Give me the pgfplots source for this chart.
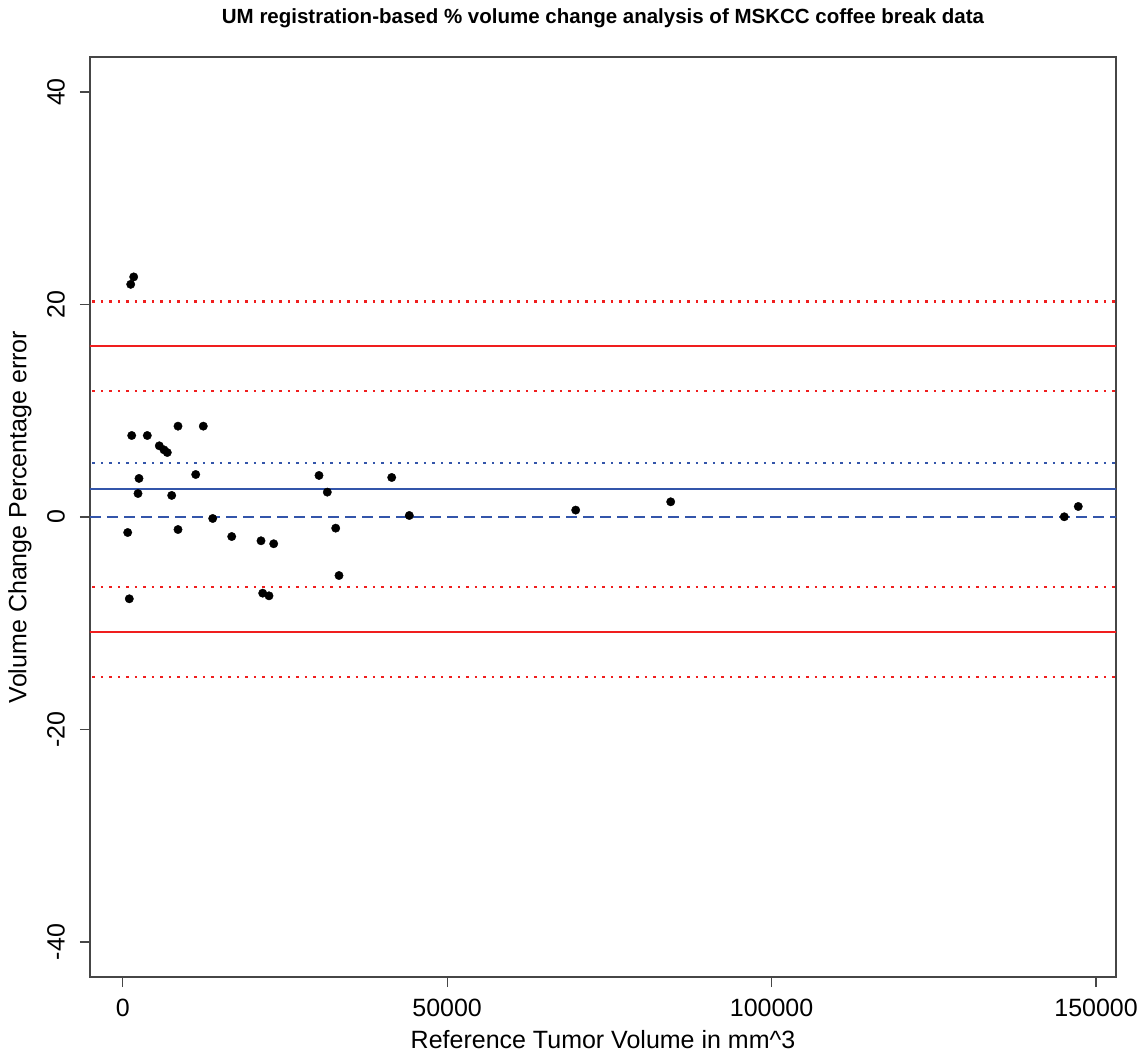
\documentclass[border=0pt]{standalone}
\usepackage{fontspec}
\setmainfont{Liberation Sans}
\usepackage{pgfplots}
\pgfplotsset{compat=1.18}
\definecolor{myblue}{RGB}{51,85,170}
\definecolor{myred}{RGB}{240,30,30}
\definecolor{framecol}{RGB}{70,70,70}

\begin{document}
\begin{tikzpicture}[x=1pt,y=1pt]
\useasboundingbox (0,0) rectangle (1145,1059);
\begin{axis}[
  at={(90pt,82pt)}, anchor=south west,
  scale only axis, width=1026pt, height=920pt,
  xmin=-5040, xmax=153075, ymin=-43.3, ymax=43.3,
  axis line style={framecol, line width=1.2pt},
  every tick/.style={framecol, line width=1.2pt},
  tick align=outside, major tick length=10pt,
  xtick pos=left, ytick pos=left,
  xtick={0,50000,100000,150000}, ytick={-40,-20,0,20,40},
  xticklabels={0,50000,100000,150000},
  yticklabels={-40,-20,0,20,40},
  scaled x ticks=false,
  xticklabel style={font=\fontsize{25}{28}\selectfont, anchor=center, yshift=-21pt},
  yticklabel style={font=\fontsize{25}{28}\selectfont, xshift=-24pt, rotate=90, anchor=center},
  xlabel={Reference Tumor Volume in mm\textasciicircum 3},
  ylabel={Volume Change Percentage error},
  label style={font=\fontsize{25}{28}\selectfont},
  xlabel style={at={(axis description cs:0.5,0)}, anchor=center, yshift=-63pt},
  ylabel style={at={(axis description cs:-0.0682,0.5)}, anchor=center},
  clip=true,
]
\addplot[only marks, mark=*, mark size=4.2pt, black] table {
x y
1233 21.9
1695 22.6
1387 7.67
3791 7.67
5640 6.70
6365 6.32
6873 6.07
8522 8.55
12420 8.55
2512 3.63
2358 2.21
11250 4.00
7551 2.03
770 -1.46
8522 -1.18
13870 -0.14
16800 -1.84
21313 -2.24
23270 -2.52
1017 -7.70
21575 -7.17
22546 -7.42
30252 3.91
41455 3.72
31530 2.34
44168 0.14
32825 -1.05
33334 -5.51
69810 0.65
84450 1.43
145100 0.02
147260 0.99
};
% limits of agreement
\addplot[myred, line width=2pt] coordinates {(-6000,16.05) (160000,16.05)};
\addplot[myred, line width=2pt] coordinates {(-6000,-10.87) (160000,-10.87)};
\addplot[myred, line width=2.2pt, dash pattern=on 2.5pt off 6pt] coordinates {(-6000,20.29) (160000,20.29)};
\addplot[myred, line width=2.2pt, dash pattern=on 2.5pt off 6pt] coordinates {(-6000,11.88) (160000,11.88)};
\addplot[myred, line width=2.2pt, dash pattern=on 2.5pt off 6pt] coordinates {(-6000,-6.57) (160000,-6.57)};
\addplot[myred, line width=2.2pt, dash pattern=on 2.5pt off 6pt] coordinates {(-6000,-15.05) (160000,-15.05)};
% mean and its CI
\addplot[myblue, line width=2pt] coordinates {(-6000,2.59) (160000,2.59)};
\addplot[myblue, line width=2.2pt, dash pattern=on 2.5pt off 6pt] coordinates {(-6000,5.07) (160000,5.07)};
\addplot[myblue, line width=2.4pt, dash pattern=on 11pt off 6pt] coordinates {(-5040,0) (160000,0)};
\end{axis}
\node[font=\bfseries\fontsize{20.5}{23}\selectfont] at (603,1041) {UM registration-based \% volume change analysis of MSKCC coffee break data};
\end{tikzpicture}
\end{document}
